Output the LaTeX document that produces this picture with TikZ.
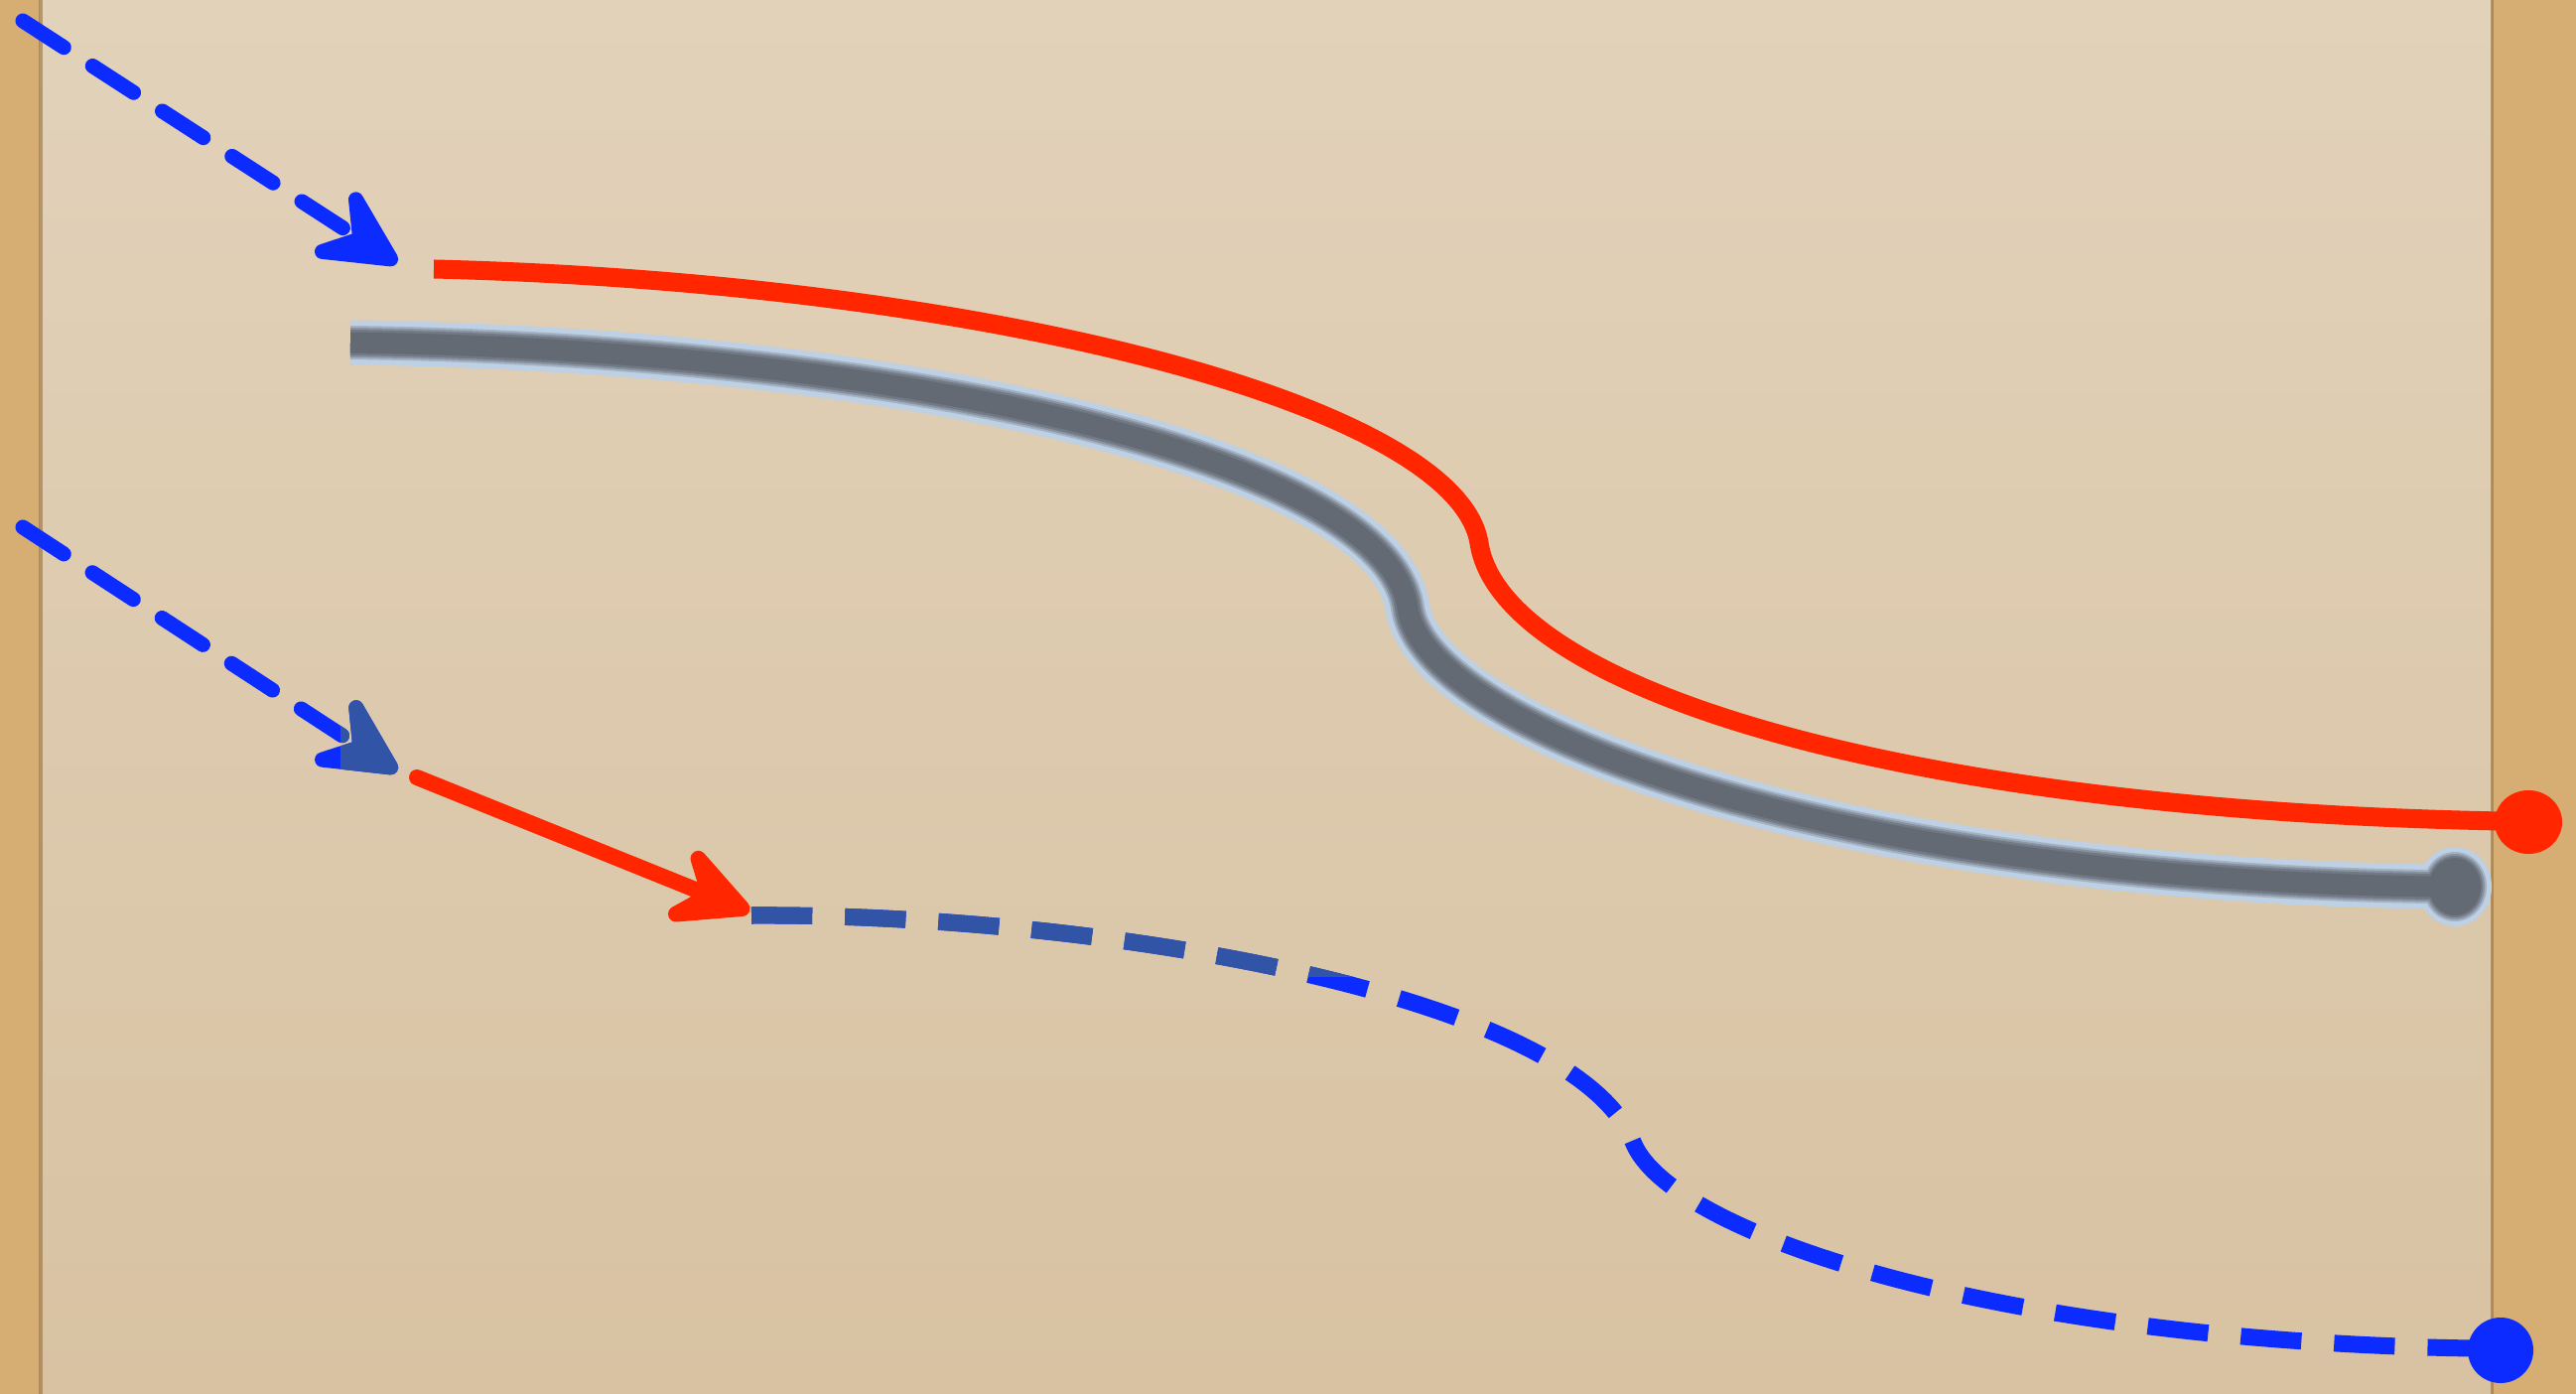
\documentclass[tikz,border=0pt]{standalone}
\usetikzlibrary{arrows.meta}
\definecolor{cork}{RGB}{214,173,114}
\definecolor{paperT}{RGB}{226,210,186}
\definecolor{paperB}{RGB}{216,194,162}
\definecolor{edgebrown}{RGB}{150,112,62}
\definecolor{vblue}{RGB}{12,44,255}
\definecolor{navy}{RGB}{50,84,166}
\definecolor{vred}{RGB}{255,38,0}
\definecolor{gcore}{RGB}{100,106,116}
\definecolor{ghalo}{RGB}{190,208,228}
\tikzset{
  hd/.tip={Stealth[length=30pt,width=30pt,inset=12pt,round]},
  bluedash/.style={line width=0.15cm, line cap=round, dash pattern=on 14pt off 9.8pt, -{hd}},
  lowdash/.style={line width=0.17cm, line join=round, dash pattern=on 17.4pt off 9.4pt},
  redline/.style={vred, line width=0.19cm},
  redarrow/.style={vred, line width=0.16cm, line cap=round, -{hd}},
  glayer/.style={line width=#1, line join=round},
}
\newcommand\graypath{(gs) .. controls (900,352) and (1395,460) .. (gm) .. controls (1436,735) and (1850,885) .. (ge)}
\newcommand\redpath{(rs) .. controls (1000,285) and (1468,410) .. (rm) .. controls (1512,690) and (1900,815) .. (re)}
\newcommand\lowpath{(ls) .. controls (1100,920) and (1585,1000) .. (lm) .. controls (1680,1240) and (2000,1350) .. (le)}
\begin{document}
\begin{tikzpicture}[x=0.01cm,y=-0.01cm]
\useasboundingbox (0,0) rectangle (2595,1404);
% background
\fill[cork] (0,0) rectangle (2595,1404);
\shade[top color=paperT, bottom color=paperB] (40,0) rectangle (2510,1404);
\draw[edgebrown, opacity=0.6, line width=0.03cm] (41,0) -- (41,1404);
\draw[edgebrown, opacity=0.6, line width=0.03cm] (2510,0) -- (2510,1404);

% coordinates
\coordinate (a1s) at (23,21);
\coordinate (a1e) at (400,265);
\coordinate (a2s) at (23,531);
\coordinate (a2e) at (400,777);
\coordinate (r2s) at (420,783);
\coordinate (r2e) at (755,918);
\coordinate (rs) at (437,271);
\coordinate (rm) at (1490,547);
\coordinate (re) at (2520,827);
\coordinate (rdot) at (2547,828);
\coordinate (gs) at (353,345);
\coordinate (gm) at (1418,612);
\coordinate (ge) at (2450,893);
\coordinate (gdot) at (2473,893);
\coordinate (ls) at (757,922);
\coordinate (lm) at (1645,1150);
\coordinate (le) at (2490,1358);
\coordinate (ldot) at (2519,1360);

% gray blurred line
\draw[ghalo, glayer=0.45cm] \graypath;
\fill[ghalo] (gdot) ellipse [x radius=37, y radius=40];
\draw[gcore!30!ghalo, glayer=0.34cm] \graypath;
\fill[gcore!30!ghalo] (gdot) ellipse [x radius=32, y radius=35];
\draw[gcore!60!ghalo, glayer=0.30cm] \graypath;
\fill[gcore!60!ghalo] (gdot) ellipse [x radius=30, y radius=33];
\draw[gcore!85!ghalo, glayer=0.26cm] \graypath;
\fill[gcore!85!ghalo] (gdot) ellipse [x radius=28, y radius=31];
\draw[gcore, glayer=0.21cm] \graypath;
\fill[gcore] (gdot) ellipse [x radius=26, y radius=29];

% red line
\draw[redline] \redpath;
\fill[vred] (rdot) ellipse [x radius=34, y radius=32];

% blue dashed arrows
\draw[bluedash, vblue] (a1s) -- (a1e);
\draw[bluedash, vblue] (a2s) -- (a2e);

% lower dashed curve
\draw[lowdash, vblue] \lowpath;
\fill[vblue] (ldot) ellipse [x radius=33, y radius=33];

% navy tinted region
\begin{scope}
  \clip (343,680) rectangle (2595,983);
  \draw[bluedash, navy] (a2s) -- (a2e);
  \draw[lowdash, navy] \lowpath;
\end{scope}

% red arrow
\draw[redarrow] (r2s) -- (r2e);
\end{tikzpicture}
\end{document}
